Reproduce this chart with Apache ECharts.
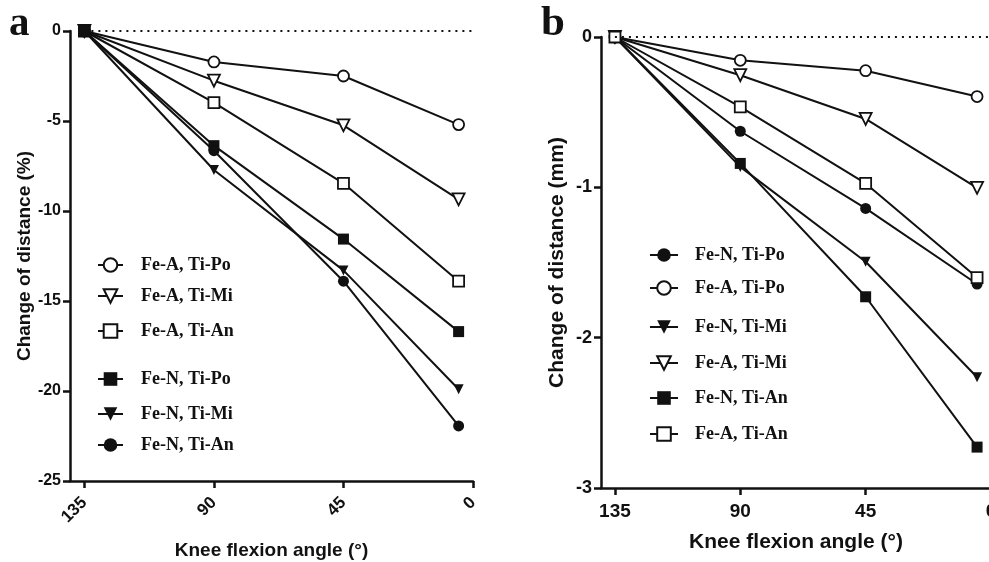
<!DOCTYPE html>
<html>
<head>
<meta charset="utf-8">
<style>
html,body{margin:0;padding:0;background:#fff;}
#main{width:989px;height:562px;}
</style>
</head>
<body>
<div id="main"></div>
<script src="https://cdn.jsdelivr.net/npm/echarts@6/dist/echarts.min.js"></script>
<script>
// knee flexion angles (deg), last measurement sits near full extension
var angles = [135, 90, 45, 5];
var angleTicks = [135, 90, 45, 0];

// panel a: change of distance (%)
var aFeATiPo = [0, -1.72, -2.5, -5.2];
var aFeATiMi = [0, -2.76, -5.24, -9.35];
var aFeATiAn = [0, -3.98, -8.46, -13.9];
var aFeNTiPo = [0, -6.37, -11.56, -16.7];
var aFeNTiMi = [0, -7.72, -13.3, -19.9];
var aFeNTiAn = [0, -6.65, -13.9, -21.94];

// panel b: change of distance (mm)
var bFeNTiPo = [0, -0.627, -1.14, -1.643];
var bFeATiPo = [0, -0.155, -0.224, -0.396];
var bFeNTiMi = [0, -0.864, -1.495, -2.263];
var bFeATiMi = [0, -0.254, -0.545, -1.003];
var bFeNTiAn = [0, -0.841, -1.728, -2.728];
var bFeATiAn = [0, -0.465, -0.974, -1.6];

var ink = '#111';
var sans = 'Liberation Sans';
var serif = 'Liberation Serif';

// marker looks
var M = {
  circOpen: {sym: 'circle', rot: 0, open: true, size: 11},
  triOpen:  {sym: 'triangle', rot: 180, open: true, size: 12},
  sqOpen:   {sym: 'rect', rot: 0, open: true, size: 11},
  sqFill:   {sym: 'rect', rot: 0, open: false, size: 11},
  triFill:  {sym: 'triangle', rot: 180, open: false, size: 10},
  circFill: {sym: 'circle', rot: 0, open: false, size: 11}
};

function mk(name, vals, m, gi) {
  return {
    name: name, type: 'line', xAxisIndex: gi, yAxisIndex: gi,
    data: angles.map(function (a, i) { return [a, vals[i]]; }),
    symbol: m.sym, symbolSize: m.size, symbolRotate: m.rot,
    showAllSymbol: true,
    lineStyle: {color: ink, width: 2},
    itemStyle: {color: m.open ? '#fff' : ink, borderColor: ink, borderWidth: m.open ? 1.8 : 0, opacity: 1},
    emphasis: {disabled: true},
    animation: false
  };
}

var seriesA = [
  mk('Fe-A, Ti-Po', aFeATiPo, M.circOpen, 0),
  mk('Fe-A, Ti-Mi', aFeATiMi, M.triOpen, 0),
  mk('Fe-A, Ti-An', aFeATiAn, M.sqOpen, 0),
  mk('Fe-N, Ti-Po', aFeNTiPo, M.sqFill, 0),
  mk('Fe-N, Ti-Mi', aFeNTiMi, M.triFill, 0),
  mk('Fe-N, Ti-An', aFeNTiAn, M.circFill, 0)
];
var seriesB = [
  mk('Fe-N, Ti-Po ', bFeNTiPo, M.circFill, 1),
  mk('Fe-A, Ti-Po ', bFeATiPo, M.circOpen, 1),
  mk('Fe-N, Ti-Mi ', bFeNTiMi, M.triFill, 1),
  mk('Fe-A, Ti-Mi ', bFeATiMi, M.triOpen, 1),
  mk('Fe-N, Ti-An ', bFeNTiAn, M.sqFill, 1),
  mk('Fe-A, Ti-An ', bFeATiAn, M.sqOpen, 1)
];

// dotted zero reference line
function zeroLine(s) {
  s.markLine = {
    silent: true, symbol: 'none', label: {show: false},
    lineStyle: {color: '#111', width: 2, type: [2, 5]},
    data: [[{coord: [135, 0]}, {coord: [0, 0]}]]
  };
}
zeroLine(seriesA[0]);
zeroLine(seriesB[1]);

// legends, one per item so the rows sit where the picture has them
var legTopA = [256, 287, 322, 370, 405, 436];
var legTopB = [246, 279, 318, 354, 389, 425];
var legends = [];
seriesA.forEach(function (s, i) {
  legends.push({
    data: [s.name], left: 97, top: legTopA[i], padding: 0, orient: 'vertical',
    itemWidth: 25, itemHeight: 17, selectedMode: false,
    textStyle: {fontFamily: serif, fontWeight: 'bold', fontSize: 18, color: ink, padding: [0, 0, 0, 13]}
  });
});
seriesB.forEach(function (s, i) {
  legends.push({
    data: [s.name], left: 649, top: legTopB[i], padding: 0, orient: 'vertical',
    itemWidth: 28, itemHeight: 17, selectedMode: false,
    textStyle: {fontFamily: serif, fontWeight: 'bold', fontSize: 18, color: ink, padding: [0, 0, 0, 12]}
  });
});

function xAx(gi, rot, fs, margin, nameGap, nameFs) {
  return {
    gridIndex: gi, type: 'value', min: 0, max: 140, interval: 45, inverse: true,
    axisLine: {show: true, onZero: false, lineStyle: {color: ink, width: 2.5}},
    axisTick: {show: true, length: 7, customValues: angleTicks, lineStyle: {color: ink, width: 2.5}},
    axisLabel: {customValues: angleTicks, rotate: rot, margin: margin, color: ink,
      fontFamily: sans, fontWeight: 'bold', fontSize: fs},
    splitLine: {show: false},
    name: 'Knee flexion angle (°)', nameLocation: 'middle', nameGap: nameGap,
    nameTextStyle: {fontFamily: sans, fontWeight: 'bold', fontSize: nameFs, color: ink}
  };
}
function yAx(gi, min, step, fs, name, nameGap, nameFs) {
  return {
    gridIndex: gi, type: 'value', min: min, max: 0, interval: step, position: 'left',
    axisLine: {show: true, onZero: false, lineStyle: {color: ink, width: 2.5}},
    axisTick: {show: true, length: 7, lineStyle: {color: ink, width: 2.5}},
    axisLabel: {margin: 9, color: ink, fontFamily: sans, fontWeight: 'bold', fontSize: fs},
    splitLine: {show: false},
    name: name, nameLocation: 'middle', nameGap: nameGap,
    nameTextStyle: {fontFamily: sans, fontWeight: 'bold', fontSize: nameFs, color: ink}
  };
}

var chart = echarts.init(document.getElementById('main'), null, {renderer: 'canvas'});
chart.setOption({
  backgroundColor: '#fff',
  animation: false,
  grid: [
    {left: 70, top: 31, width: 403, height: 450, outerBoundsMode: 'none', containLabel: false},
    {left: 601, top: 37, width: 390, height: 451, outerBoundsMode: 'none', containLabel: false}
  ],
  xAxis: [xAx(0, 45, 17, 19, 60, 19), xAx(1, 0, 19, 14, 44, 21)],
  yAxis: [
    yAx(0, -25, 5, 16, 'Change of distance (%)', 36, 19),
    yAx(1, -3, 1, 18, 'Change of distance (mm)', 33, 21)
  ],
  legend: legends,
  graphic: [
    {type: 'text', left: 9, top: 4, style: {text: 'a', fontFamily: serif, fontWeight: 'bold', fontSize: 41, fill: ink}},
    {type: 'text', left: 541, top: 2, style: {text: 'b', fontFamily: serif, fontWeight: 'bold', fontSize: 43, fill: ink}}
  ],
  series: seriesA.concat(seriesB)
});
</script>
</body>
</html>
